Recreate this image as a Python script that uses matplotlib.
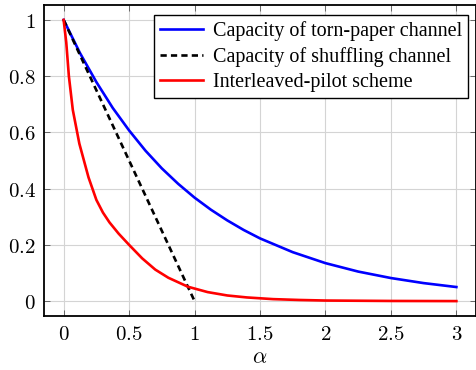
import matplotlib
matplotlib.use("Agg")
import matplotlib.pyplot as plt

plt.rcParams['mathtext.fontset'] = 'cm'
plt.rcParams['lines.scale_dashes'] = False

# values
alpha_torn = [0, 0.125, 0.25, 0.375, 0.5, 0.625, 0.75, 0.875, 1.0, 1.125, 1.25, 1.375,
              1.5, 1.75, 2.0, 2.25, 2.5, 2.75, 3.0]
cap_torn = [1.0, 0.882, 0.779, 0.687, 0.607, 0.535, 0.472, 0.417, 0.368, 0.325, 0.287,
            0.253, 0.223, 0.174, 0.135, 0.105, 0.082, 0.064, 0.05]

alpha_shuf = [0, 1]
cap_shuf = [1.0, 0.0]

alpha_pilot = [0, 0.01, 0.02, 0.04, 0.07, 0.12, 0.19, 0.25, 0.3, 0.35, 0.42, 0.5, 0.6,
               0.7, 0.8, 0.95, 1.1, 1.25, 1.4, 1.6, 1.8, 2.0, 2.5, 3.0]
cap_pilot = [1.0, 0.96, 0.92, 0.80, 0.68, 0.56, 0.44, 0.36, 0.315, 0.28, 0.24, 0.2, 0.152,
             0.112, 0.083, 0.051, 0.032, 0.02, 0.013, 0.007, 0.004, 0.002, 0.0005, 0.0]

x_ticks = [0, 0.5, 1, 1.5, 2, 2.5, 3]
y_ticks = [0, 0.2, 0.4, 0.6, 0.8, 1]

fig = plt.figure(figsize=(4.77, 3.70), dpi=100)
ax = fig.add_axes([44/477, 54/370, 432/477, 311/370])

ax.plot(alpha_torn, cap_torn, color='blue', lw=1.9, label='Capacity of torn-paper channel')
ax.plot(alpha_shuf, cap_shuf, color='black', lw=1.9, linestyle=(0, (4.5, 3)),
        label='Capacity of shuffling channel')
ax.plot(alpha_pilot, cap_pilot, color='red', lw=1.9, label='Interleaved-pilot scheme')

ax.set_xlim(-0.15, 3.15)
ax.set_ylim(-0.053, 1.053)
ax.set_xticks(x_ticks)
ax.set_yticks(y_ticks)
ax.set_xticklabels(['$%g$' % t for t in x_ticks], fontsize=15)
ax.set_yticklabels(['$%g$' % t for t in y_ticks], fontsize=15)
ax.tick_params(direction='in', length=4, width=0.6, color='#555555',
               top=True, right=True, pad=6)
ax.grid(True, color='#d4d4d4', lw=0.8)
ax.set_axisbelow(True)
for s in ax.spines.values():
    s.set_linewidth(1.3)

ax.set_xlabel(r'$\alpha$', fontsize=16, labelpad=2)

leg = ax.legend(loc='upper right', bbox_to_anchor=(0.9955, 0.987),
                prop={'family': 'Liberation Serif', 'size': 14.5},
                fancybox=False, framealpha=1, edgecolor='black',
                handlelength=2.1, handletextpad=0.5, labelspacing=0.3,
                borderpad=0.3, borderaxespad=0.3)
leg.get_frame().set_linewidth(1.0)

fig.savefig('out.png', dpi=100)
